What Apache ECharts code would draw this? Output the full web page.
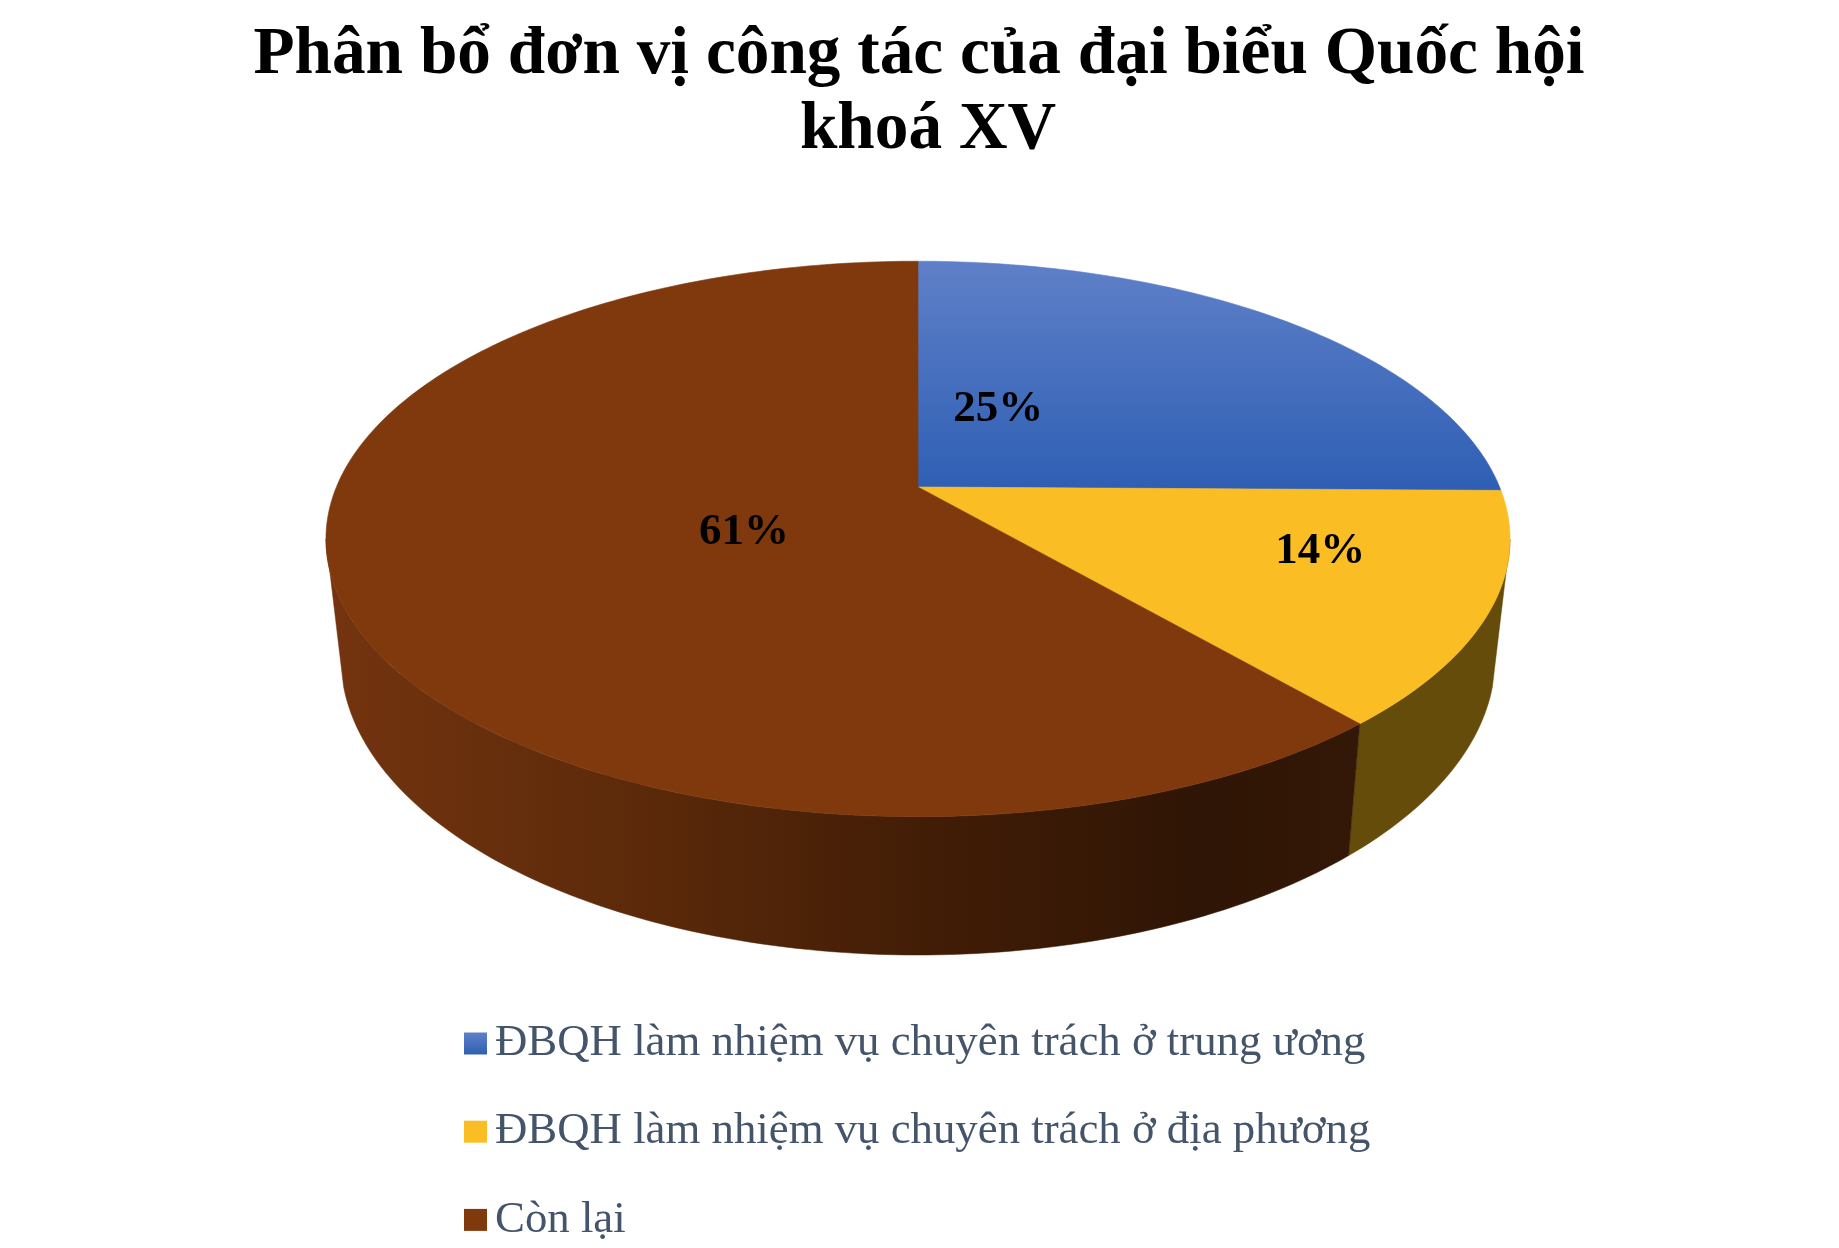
<!DOCTYPE html>
<html>
<head>
<meta charset="utf-8">
<style>html,body{margin:0;padding:0;background:#fff}#c{width:1839px;height:1248px}</style>
<script src="https://cdn.jsdelivr.net/npm/echarts@6/dist/echarts.min.js"></script>
</head>
<body>
<div id="c"></div>
<script>
// Data
const titleLines = ['Phân bổ đơn vị công tác của đại biểu Quốc hội', 'khoá XV'];
const categories = [
  'ĐBQH làm nhiệm vụ chuyên trách ở trung ương',
  'ĐBQH làm nhiệm vụ chuyên trách ở địa phương',
  'Còn lại'
];
const shares = [25.2, 13.5, 61.3];

// Styling and layout
const FONT = '"Liberation Serif","Times New Roman",serif';
const CX = 918;
const TOP = {cy: 487, A: 581.6, B: 268, k: 0.187, edge: 100.8};
const BOTTOM = {cy: 602, A: 567, B: 287, k: 0.187, edge: 106.3};
const LABEL_AT = [[0.146, 0.307], [0.662, -0.23], [-0.29, -0.164]];
const TITLE_POS = [{left: 914, top: 14}, {left: 923, top: 89}];

const blueFace = {type:'linear', global:true, x:0, y:261, x2:0, y2:487,
  colorStops:[{offset:0,color:'#5f80c8'},{offset:1,color:'#2f5fb4'}]};
const blueKey = {type:'linear', x:0, y:0, x2:0, y2:1,
  colorStops:[{offset:0,color:'#5f80c8'},{offset:1,color:'#2f5fb4'}]};
const brownWall = {type:'linear', global:true, x:326, y:0, x2:1357, y2:0,
  colorStops:[{offset:0,color:'#74340f'},{offset:0.3,color:'#5c2a0a'},{offset:0.58,color:'#421d06'},
              {offset:0.85,color:'#2f1505'},{offset:1,color:'#341807'}]};
const faceColors = [blueFace, '#fbbd24', '#80390d'];
const keyColors = [blueKey, '#fbbd24', '#80390d'];
const wallColors = [null, '#664c0a', brownWall];

function project(ring, deg) {
  const t = deg * Math.PI / 180;
  return projectUV(ring, Math.sin(t), Math.cos(t));
}
function projectUV(ring, u, v) {
  const w = 1 + ring.k * v;
  return [CX + ring.A * u / w, ring.cy - ring.B * v / w];
}
function arc(ring, a, b) {
  const pts = [], n = Math.max(2, Math.ceil(Math.abs(b - a)));
  for (let i = 0; i <= n; i++) pts.push(project(ring, a + (b - a) * i / n));
  return pts;
}

const total = shares.reduce((s, v) => s + v, 0);
let running = 0;
const series = categories.map((name, i) => {
  const start = running;
  running += shares[i];
  return {
    type: 'custom',
    name: name,
    coordinateSystem: 'none',
    silent: true,
    animation: false,
    itemStyle: {color: keyColors[i]},
    data: [[shares[i], start]],
    renderItem: function (params, api) {
      const value = api.value(0), from = api.value(1);
      const a = from / total * 360, b = (from + value) / total * 360;
      const children = [];
      // Side wall: only the part of the rim inside each ring's silhouette shows
      if (wallColors[i]) {
        const ta = Math.max(a, TOP.edge), tb = Math.min(b, 360 - TOP.edge);
        const ba = Math.max(a, BOTTOM.edge), bb = Math.min(b, 360 - BOTTOM.edge);
        children.push({
          type: 'polygon', z2: 1,
          shape: {points: arc(TOP, ta, tb).concat(arc(BOTTOM, bb, ba))},
          style: {fill: wallColors[i], stroke: wallColors[i], lineWidth: 0.5}
        });
      }
      // Top face
      children.push({
        type: 'polygon', z2: 10,
        shape: {points: [projectUV(TOP, 0, 0)].concat(arc(TOP, a, b))},
        style: {fill: faceColors[i], stroke: faceColors[i], lineWidth: 0.6}
      });
      // Percentage label
      const at = projectUV(TOP, LABEL_AT[i][0], LABEL_AT[i][1]);
      children.push({
        type: 'text', z2: 20, x: at[0], y: at[1],
        style: {
          text: Math.round(value / total * 100) + '%',
          fill: '#000', font: 'bold 45px ' + FONT,
          align: 'center', verticalAlign: 'middle'
        }
      });
      return {type: 'group', children: children};
    }
  };
});

const chart = echarts.init(document.getElementById('c'), null, {renderer: 'canvas'});
chart.setOption({
  animation: false,
  backgroundColor: '#fff',
  title: titleLines.map((line, i) => ({
    text: line,
    left: TITLE_POS[i].left, top: TITLE_POS[i].top, textAlign: 'center',
    textStyle: {fontFamily: FONT, fontWeight: 'bold', fontSize: 67.3, lineHeight: 74, color: '#000'}
  })),
  legend: {
    orient: 'vertical',
    left: 464, top: 1021,
    icon: 'rect',
    itemWidth: 23, itemHeight: 22, itemGap: 43.2,
    padding: 0,
    selectedMode: false,
    textStyle: {fontFamily: FONT, fontSize: 44.8, color: '#44546a', padding: [0, 0, 0, 3]},
    data: categories.map((n, i) => ({name: n, itemStyle: {color: keyColors[i]}}))
  },
  series: series
});
</script>
</body>
</html>
